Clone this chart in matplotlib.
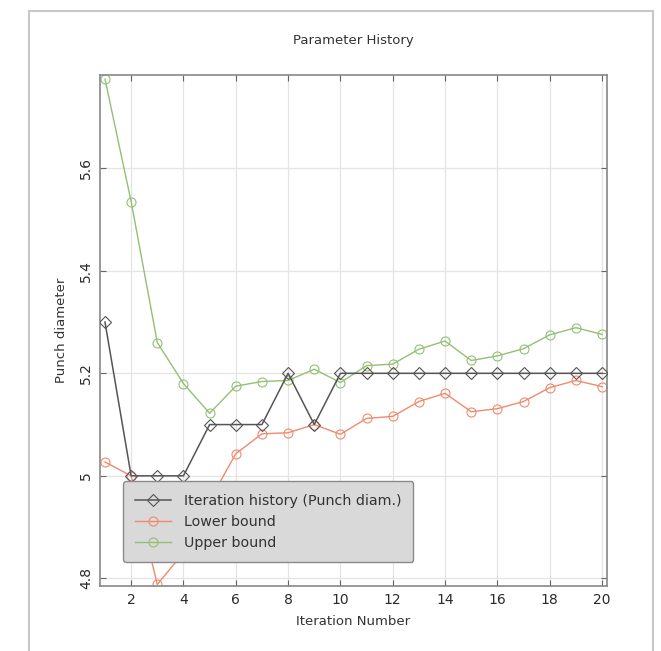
import numpy as np
import matplotlib
matplotlib.use("Agg")
import matplotlib.pyplot as plt
from matplotlib.patches import Rectangle

iterations = np.arange(1, 21)
punch_diam = [5.30, 5.00, 5.00, 5.00, 5.10, 5.10, 5.10, 5.20, 5.10, 5.20,
              5.20, 5.20, 5.20, 5.20, 5.20, 5.20, 5.20, 5.20, 5.20, 5.20]
lower_bound = [5.027, 5.000, 4.788, 4.850, 4.952, 5.043, 5.082, 5.084, 5.100, 5.081,
               5.112, 5.116, 5.145, 5.161, 5.125, 5.131, 5.145, 5.172, 5.186, 5.174]
upper_bound = [5.774, 5.535, 5.260, 5.180, 5.122, 5.175, 5.184, 5.186, 5.208, 5.182,
               5.215, 5.218, 5.247, 5.263, 5.225, 5.234, 5.248, 5.275, 5.289, 5.276]
labels = ["Iteration history (Punch diam.)", "Lower bound", "Upper bound"]

plt.rcParams['font.family'] = ['DejaVu Sans']

fig = plt.figure(figsize=(6.61, 6.51), dpi=100)
# light grey frame around the whole panel
fig.patches.append(Rectangle((0.044, -0.01), 0.944, 0.993, transform=fig.transFigure,
                             fill=False, edgecolor='#c8c8c8', linewidth=1.5))

ax = fig.add_axes([0.1513, 0.0998, 0.767, 0.785])

ax.plot(iterations, punch_diam, color='#555555', lw=1.1, marker='D', ms=6,
        mfc='none', mec='#555555', mew=0.8, label=labels[0], zorder=3)
ax.plot(iterations, lower_bound, color='#f08a6c', lw=1.0, marker='o', ms=6.5,
        mfc='none', mec='#f08a6c', mew=0.8, label=labels[1], zorder=2)
ax.plot(iterations, upper_bound, color='#94bf74', lw=1.0, marker='o', ms=6.5,
        mfc='none', mec='#94bf74', mew=0.8, label=labels[2], zorder=2)

ax.set_xlim(0.81, 20.19)
ax.set_ylim(4.785, 5.782)
ax.set_xticks(np.arange(2, 21, 2))
ax.set_yticks([4.8, 5.0, 5.2, 5.4, 5.6])
ax.set_yticklabels(['4.8', '5', '5.2', '5.4', '5.6'], rotation=90, va='center')
ax.tick_params(direction='in', top=True, right=True, length=4, color='#666666',
               labelsize=10, labelcolor='#2a2a2a', pad=5)
ax.grid(True, color='#e4e4e4', lw=0.9)
ax.set_axisbelow(True)
for s in ax.spines.values():
    s.set_color('#888888')
    s.set_linewidth(1.2)

ax.set_title("Parameter History", fontsize=9.5, color='#333333', pad=22)
ax.set_xlabel("Iteration Number", fontsize=9.5, color='#333333', labelpad=6)
ax.set_ylabel("Punch diameter", fontsize=9.5, color='#333333', labelpad=8)

leg = ax.legend(loc='lower left', bbox_to_anchor=(0.045, 0.047), fontsize=10.3,
                frameon=True, fancybox=True, facecolor='#d9d9d9', edgecolor='#8a8a8a',
                framealpha=1.0, borderpad=0.85, labelspacing=0.5, handlelength=2.5,
                handletextpad=0.9, borderaxespad=0)
leg.get_frame().set_linewidth(1.0)
for t in leg.get_texts():
    t.set_color('#333333')

fig.savefig("out.png", dpi=100)
